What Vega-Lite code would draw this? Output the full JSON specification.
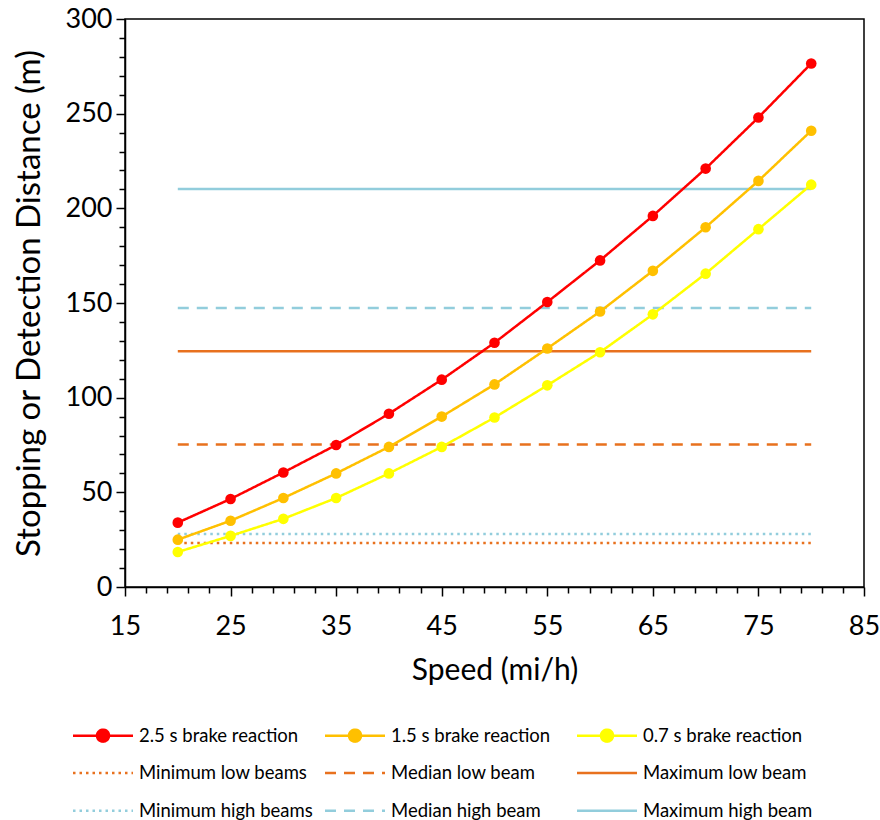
{
  "$schema": "https://vega.github.io/schema/vega-lite/v6.json",
  "autosize": {"type": "none"},
  "padding": {"left": 125, "top": 19, "right": 16, "bottom": 233},
  "width": 739,
  "height": 568,
  "background": "white",
  "config": {
    "view": {"stroke": "black", "strokeWidth": 1.5},
    "axis": {
      "labelFont": "Lato", "titleFont": "Lato", "labelColor": "black", "titleColor": "black",
      "titleFontWeight": "normal", "domainColor": "black", "domainWidth": 1.5,
      "tickColor": "black", "tickWidth": 1.5, "grid": false,
      "labelOverlap": false, "labelBound": false, "labelFlush": false
    }
  },
  "datasets": {
    "pts": [
      {"speed": 20, "dist": 34, "series": "2.5 s brake reaction"},
      {"speed": 25, "dist": 46.5, "series": "2.5 s brake reaction"},
      {"speed": 30, "dist": 60.5, "series": "2.5 s brake reaction"},
      {"speed": 35, "dist": 75, "series": "2.5 s brake reaction"},
      {"speed": 40, "dist": 91.5, "series": "2.5 s brake reaction"},
      {"speed": 45, "dist": 109.5, "series": "2.5 s brake reaction"},
      {"speed": 50, "dist": 129, "series": "2.5 s brake reaction"},
      {"speed": 55, "dist": 150.5, "series": "2.5 s brake reaction"},
      {"speed": 60, "dist": 172.5, "series": "2.5 s brake reaction"},
      {"speed": 65, "dist": 196, "series": "2.5 s brake reaction"},
      {"speed": 70, "dist": 221, "series": "2.5 s brake reaction"},
      {"speed": 75, "dist": 248, "series": "2.5 s brake reaction"},
      {"speed": 80, "dist": 276.5, "series": "2.5 s brake reaction"},
      {"speed": 20, "dist": 25, "series": "1.5 s brake reaction"},
      {"speed": 25, "dist": 35, "series": "1.5 s brake reaction"},
      {"speed": 30, "dist": 47, "series": "1.5 s brake reaction"},
      {"speed": 35, "dist": 60, "series": "1.5 s brake reaction"},
      {"speed": 40, "dist": 74, "series": "1.5 s brake reaction"},
      {"speed": 45, "dist": 90, "series": "1.5 s brake reaction"},
      {"speed": 50, "dist": 107, "series": "1.5 s brake reaction"},
      {"speed": 55, "dist": 126, "series": "1.5 s brake reaction"},
      {"speed": 60, "dist": 145.5, "series": "1.5 s brake reaction"},
      {"speed": 65, "dist": 167, "series": "1.5 s brake reaction"},
      {"speed": 70, "dist": 190, "series": "1.5 s brake reaction"},
      {"speed": 75, "dist": 214.5, "series": "1.5 s brake reaction"},
      {"speed": 80, "dist": 241, "series": "1.5 s brake reaction"},
      {"speed": 20, "dist": 18.5, "series": "0.7 s brake reaction"},
      {"speed": 25, "dist": 27, "series": "0.7 s brake reaction"},
      {"speed": 30, "dist": 36, "series": "0.7 s brake reaction"},
      {"speed": 35, "dist": 47, "series": "0.7 s brake reaction"},
      {"speed": 40, "dist": 60, "series": "0.7 s brake reaction"},
      {"speed": 45, "dist": 74, "series": "0.7 s brake reaction"},
      {"speed": 50, "dist": 89.5, "series": "0.7 s brake reaction"},
      {"speed": 55, "dist": 106.5, "series": "0.7 s brake reaction"},
      {"speed": 60, "dist": 124, "series": "0.7 s brake reaction"},
      {"speed": 65, "dist": 144, "series": "0.7 s brake reaction"},
      {"speed": 70, "dist": 165.5, "series": "0.7 s brake reaction"},
      {"speed": 75, "dist": 189, "series": "0.7 s brake reaction"},
      {"speed": 80, "dist": 212.5, "series": "0.7 s brake reaction"}
    ],
    "beams": [
      {"speed": 20, "dist": 23.2, "series": "Minimum low beams"},
      {"speed": 80, "dist": 23.2, "series": "Minimum low beams"},
      {"speed": 20, "dist": 75.3, "series": "Median low beam"},
      {"speed": 80, "dist": 75.3, "series": "Median low beam"},
      {"speed": 20, "dist": 124.5, "series": "Maximum low beam"},
      {"speed": 80, "dist": 124.5, "series": "Maximum low beam"},
      {"speed": 20, "dist": 28, "series": "Minimum high beams"},
      {"speed": 80, "dist": 28, "series": "Minimum high beams"},
      {"speed": 20, "dist": 147.4, "series": "Median high beam"},
      {"speed": 80, "dist": 147.4, "series": "Median high beam"},
      {"speed": 20, "dist": 210.2, "series": "Maximum high beam"},
      {"speed": 80, "dist": 210.2, "series": "Maximum high beam"}
    ]
  },
  "encoding": {
    "x": {
      "field": "speed", "type": "quantitative",
      "scale": {"domain": [15, 85], "nice": false, "zero": false},
      "axis": {
        "title": "Speed (mi/h)", "titleFontSize": 30, "titlePadding": 16,
        "labelFontSize": 27, "labelPadding": 17,
        "values": [15,17,19,21,23,25,27,29,31,33,35,37,39,41,43,45,47,49,51,53,55,57,59,61,63,65,67,69,71,73,75,77,79,81,83,85],
        "labelExpr": "(datum.value - 15) % 10 == 0 ? datum.label : ''",
        "tickSize": {"condition": {"test": "(datum.value - 15) % 10 == 0", "value": 9}, "value": 6}
      }
    },
    "y": {
      "field": "dist", "type": "quantitative",
      "scale": {"domain": [0, 300], "nice": false},
      "axis": {
        "title": "Stopping or Detection Distance (m)", "titleFontSize": 33, "titlePadding": 19,
        "labelFontSize": 27, "labelPadding": 4,
        "values": [0,10,20,30,40,50,60,70,80,90,100,110,120,130,140,150,160,170,180,190,200,210,220,230,240,250,260,270,280,290,300],
        "labelExpr": "datum.value % 50 == 0 ? datum.label : ''",
        "tickSize": {"condition": {"test": "datum.value % 50 == 0", "value": 9}, "value": 6}
      }
    },
    "color": {
      "field": "series", "type": "nominal",
      "scale": {
        "domain": ["2.5 s brake reaction", "1.5 s brake reaction", "0.7 s brake reaction", "Minimum low beams", "Median low beam", "Maximum low beam", "Minimum high beams", "Median high beam", "Maximum high beam"],
        "range": ["#FF0000", "#FFC000", "#FFFF00", "#E8711E", "#E8711E", "#E8711E", "#92CDDC", "#92CDDC", "#92CDDC"]
      },
      "legend": {
        "title": null, "orient": "none", "legendX": -52, "legendY": 707, "direction": "horizontal",
        "columns": 3, "gridAlign": "all", "columnPadding": 7, "rowPadding": 16.8, "padding": 0,
        "labelFont": "Lato", "labelFontSize": 18.5, "labelColor": "black", "labelLimit": 400,
        "symbolSize": 144, "symbolOffset": 20.75, "labelOffset": 26.75, "symbolStrokeWidth": 2.5,
        "symbolType": "stroke",
        "encode": {
          "symbols": {
            "update": {
              "shape": {"signal": "indexof(['2.5 s brake reaction','1.5 s brake reaction','0.7 s brake reaction'], datum.value) >= 0 ? 'M-5,0H5M-1,0A1,1,0,1,0,1,0A1,1,0,1,0,-1,0Z' : 'M-5,0H5'"},
              "fill": {"signal": "datum.value == '2.5 s brake reaction' ? '#FF0000' : datum.value == '1.5 s brake reaction' ? '#FFC000' : datum.value == '0.7 s brake reaction' ? '#FFFF00' : 'transparent'"},
              "opacity": {"value": 1}
            }
          }
        }
      }
    }
  },
  "layer": [
    {
      "data": {"name": "beams"},
      "mark": {"type": "line", "strokeWidth": 2.5},
      "encoding": {
        "strokeDash": {
          "field": "series", "type": "nominal",
          "scale": {
            "domain": ["2.5 s brake reaction", "1.5 s brake reaction", "0.7 s brake reaction", "Minimum low beams", "Median low beam", "Maximum low beam", "Minimum high beams", "Median high beam", "Maximum high beam"],
            "range": [[1, 0], [1, 0], [1, 0], [2.5, 4], [11, 8], [1, 0], [2.5, 4], [11, 8], [1, 0]]
          }
        }
      }
    },
    {
      "data": {"name": "pts"},
      "mark": {"type": "line", "strokeWidth": 2.5},
      "encoding": {
        "strokeDash": {"field": "series", "type": "nominal"}
      }
    },
    {
      "data": {"name": "pts"},
      "mark": {"type": "point", "filled": true, "size": 113, "opacity": 1},
      "encoding": {}
    }
  ]
}
